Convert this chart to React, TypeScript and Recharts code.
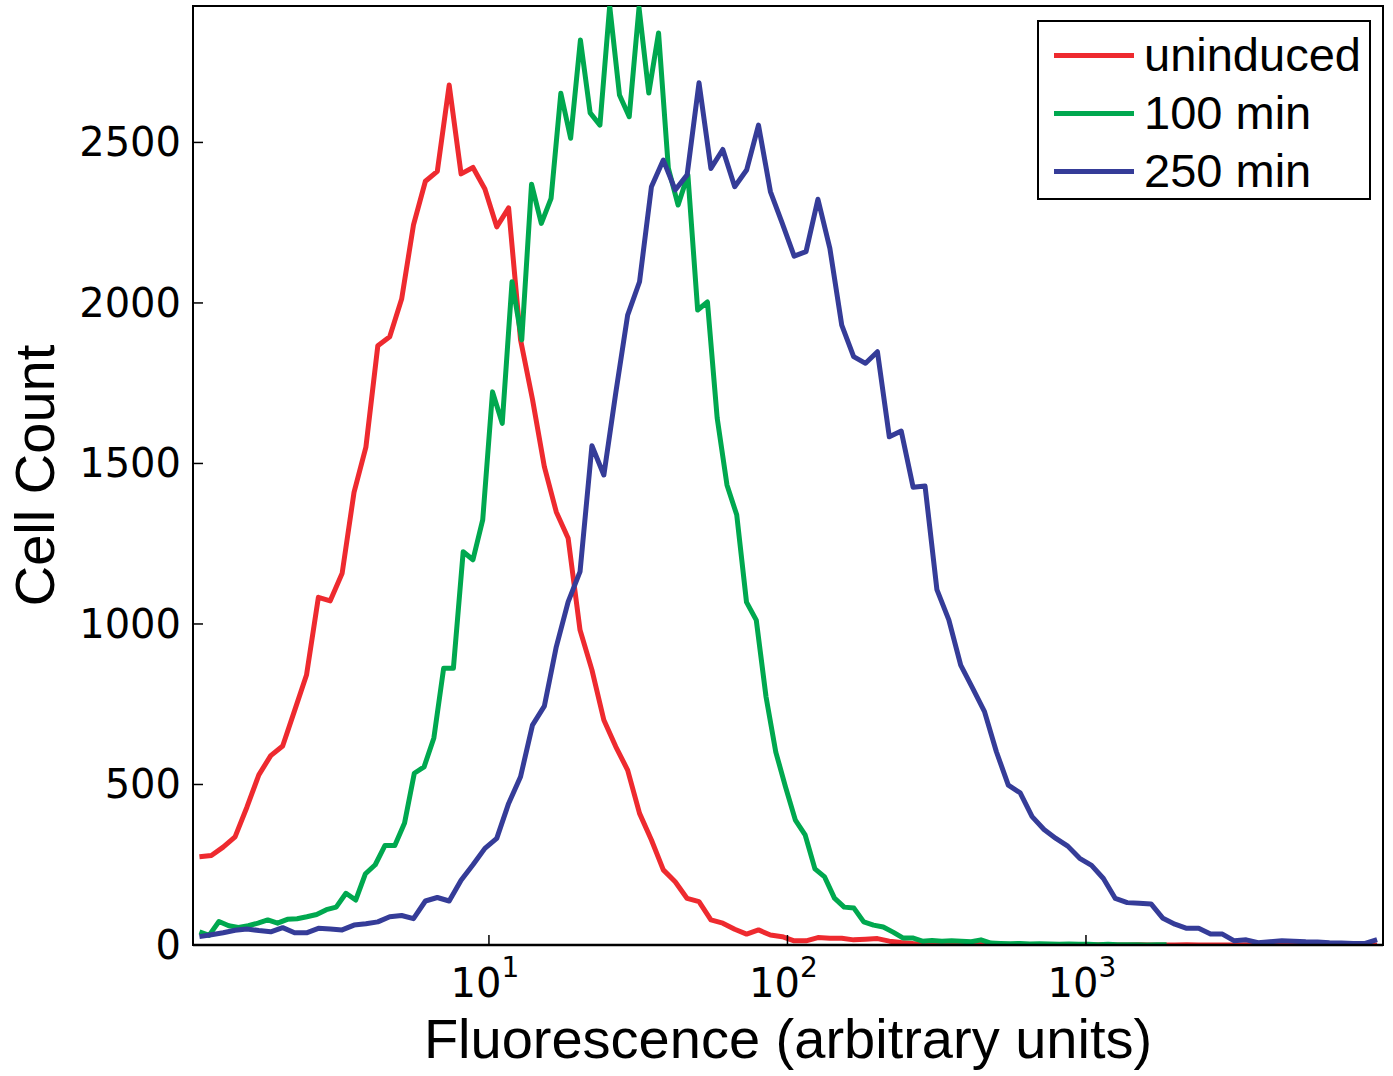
import React from 'react';
import { LineChart, Line, XAxis, YAxis, Legend, ReferenceArea } from 'recharts';

// histogram bin centres (log spaced), shared by uninduced and 250 min
const fluorWide = [
  1.072, 1.175, 1.287, 1.411, 1.547, 1.695, 1.858, 2.037, 2.233, 2.448,
  2.683, 2.94, 3.223, 3.532, 3.871, 4.244, 4.652, 5.099, 5.588, 6.125,
  6.714, 7.359, 8.066, 8.841, 9.692, 10.62, 11.64, 12.76, 13.99, 15.33,
  16.81, 18.42, 20.19, 22.13, 24.26, 26.59, 29.15, 31.95, 35.02, 38.38,
  42.07, 46.12, 50.55, 55.41, 60.73, 66.57, 72.97, 79.98, 87.67, 96.09,
  105.3, 115.4, 126.5, 138.7, 152.0, 166.6, 182.6, 200.2, 219.4, 240.5,
  263.6, 289.0, 316.7, 347.2, 380.5, 417.1, 457.2, 501.1, 549.3, 602.1,
  660.0, 723.4, 792.9, 869.1, 952.6, 1044, 1144, 1254, 1375, 1507,
  1652, 1811, 1985, 2175, 2385, 2614, 2865, 3140, 3442, 3773,
  4135, 4533, 4968, 5446, 5969, 6543, 7171, 7861, 8617, 9444,
];

// bin centres of the 100 min histogram (narrower range)
const fluorNarrow = [
  1.072, 1.155, 1.246, 1.344, 1.448, 1.562, 1.684, 1.816, 1.958, 2.112,
  2.277, 2.455, 2.647, 2.854, 3.078, 3.319, 3.578, 3.858, 4.16, 4.486,
  4.837, 5.216, 5.623, 6.064, 6.539, 7.051, 7.602, 8.198, 8.839, 9.53,
  10.28, 11.08, 11.95, 12.88, 13.89, 14.98, 16.15, 17.41, 18.78, 20.25,
  21.83, 23.54, 25.38, 27.37, 29.51, 31.82, 34.31, 37.0, 39.9, 43.02,
  46.39, 50.02, 53.94, 58.16, 62.71, 67.61, 72.91, 78.62, 84.77, 91.4,
  98.55, 106.3, 114.6, 123.6, 133.2, 143.7, 154.9, 167.0, 180.1, 194.2,
  209.4, 225.8, 243.5, 262.5, 283.1, 305.2, 329.1, 354.8, 382.6, 412.6,
  444.9, 479.7, 517.2, 557.7, 601.4, 648.4, 699.2, 753.9, 812.8, 876.5,
  945.1, 1019, 1099, 1185, 1278, 1378, 1485, 1601, 1727, 1862,
];

const uninduced = [
  275, 279, 305, 337, 430, 530, 590, 620, 730, 841,
  1083, 1072, 1158, 1410, 1551, 1867, 1895, 2012, 2243, 2379,
  2410, 2679, 2402, 2422, 2355, 2237, 2296, 1885, 1700, 1490,
  1349, 1267, 981, 857, 701, 618, 545, 410, 327, 234,
  197, 145, 135, 78, 68, 49, 34, 47, 31, 26,
  13, 13, 23, 21, 21, 16, 18, 20, 12, 8,
  5, 4, 3, 4, 2, 3, 2, 2, 1, 1,
  1, 0, 1, 0, 1, 0, 1, 0, 0, 1,
  0, 0, 0, 1, 0, 0, 0, 0, 1, 0,
  0, 0, 0, 0, 0, 0, 0, 0, 0, 0,
];

const min100 = [
  41, 30, 73, 60, 55, 60, 68, 78, 68, 80,
  82, 88, 95, 110, 118, 161, 140, 222, 250, 310,
  310, 380, 535, 555, 645, 862, 862, 1225, 1200, 1324,
  1723, 1625, 2066, 1885, 2370, 2248, 2326, 2653, 2513, 2819,
  2592, 2554, 2925, 2648, 2580, 2920, 2654, 2841, 2420, 2305,
  2399, 1978, 2003, 1641, 1433, 1340, 1068, 1012, 773, 601,
  492, 389, 343, 237, 212, 146, 118, 115, 72, 62,
  56, 40, 22, 22, 12, 14, 12, 13, 12, 10,
  16, 6, 5, 4, 5, 3, 4, 3, 2, 3,
  2, 2, 1, 2, 1, 1, 1, 0, 1, 1,
];

const min250 = [
  26, 32, 38, 46, 50, 45, 41, 54, 38, 38,
  52, 50, 47, 62, 66, 72, 88, 92, 82, 137,
  148, 137, 202, 250, 301, 332, 441, 524, 685, 744,
  929, 1069, 1163, 1555, 1464, 1719, 1962, 2066, 2362, 2445,
  2352, 2399, 2686, 2419, 2478, 2362, 2414, 2554, 2347, 2248,
  2146, 2160, 2323, 2170, 1931, 1833, 1812, 1848, 1583, 1601,
  1426, 1430, 1107, 1013, 872, 800, 727, 602, 498, 474,
  400, 360, 332, 308, 270, 248, 207, 145, 132, 130,
  128, 83, 65, 52, 52, 34, 34, 13, 16, 7,
  10, 13, 12, 10, 9, 7, 6, 5, 5, 17,
];

const seriesNames = ['uninduced', '100 min', '250 min'];
const yTicks = [0, 500, 1000, 1500, 2000, 2500];
const xTicks = [10, 100, 1000];
const xDomain = [1.02, 9886];
const yDomain = [0, 2925];

const toPoints = (xs: number[], ys: number[]) => xs.map((x, i) => ({ x, y: ys[i] }));

const redData = toPoints(fluorWide, uninduced);
const greenData = toPoints(fluorNarrow, min100);
const blueData = toPoints(fluorWide, min250);

const TICK_FONT = 'DejaVu Sans, sans-serif';
const LABEL_FONT = 'Liberation Sans, Arial, sans-serif';
const LINE_W = 5;

const LeftTick = ({ x, y, payload }: any) => (
  <g>
    <line x1={x} x2={x + 10} y1={y} y2={y} stroke="#000" strokeWidth={1.5} />
    <text x={x - 12} y={y} textAnchor="end" dominantBaseline="central" fontFamily={TICK_FONT} fontSize={40} fill="#000">
      {payload.value}
    </text>
  </g>
);

const RightTick = ({ x, y }: any) => (
  <line x1={x} x2={x - 10} y1={y} y2={y} stroke="#000" strokeWidth={1.5} />
);

const BottomTick = ({ x, y, payload }: any) => {
  const exp = Math.round(Math.log10(payload.value));
  return (
    <g>
      <line x1={x} x2={x} y1={y} y2={y - 10} stroke="#000" strokeWidth={1.5} />
      <text x={x - 4} y={y + 52} textAnchor="middle" fontFamily={TICK_FONT} fontSize={40} fill="#000">
        10
        <tspan dy={-20} fontSize={28}>{exp}</tspan>
      </text>
    </g>
  );
};

const TopTick = ({ x, y }: any) => (
  <line x1={x} x2={x} y1={y} y2={y + 10} stroke="#000" strokeWidth={1.5} />
);

const LegendBox = ({ payload }: any) => {
  const items = [...(payload || [])].sort(
    (a: any, b: any) => seriesNames.indexOf(a.value) - seriesNames.indexOf(b.value),
  );
  return (
    <div
      style={{
        width: 334,
        height: 180,
        boxSizing: 'border-box',
        border: '2px solid #000',
        background: '#fff',
        padding: '4px 0 0 15px',
      }}
    >
      {items.map((entry: any) => (
        <div key={entry.value} style={{ display: 'flex', alignItems: 'center', height: 58 }}>
          <div style={{ width: 80, height: LINE_W, background: entry.color, marginRight: 10 }} />
          <span style={{ fontFamily: LABEL_FONT, fontSize: 47, color: '#000', lineHeight: '58px' }}>{entry.value}</span>
        </div>
      ))}
    </div>
  );
};

const App = () => (
  <div style={{ position: 'absolute', left: 0, top: 0, width: 1393, height: 1076, background: '#fff' }}>
    <LineChart width={1393} height={1076} margin={{ top: 6, right: 10, left: 0, bottom: 0 }}>
      <XAxis
        dataKey="x"
        type="number"
        scale="log"
        domain={xDomain}
        allowDataOverflow
        ticks={xTicks}
        height={131}
        tickSize={0}
        tickMargin={0}
        tick={<BottomTick />}
        axisLine={{ stroke: '#000', strokeWidth: 2.5 }}
        label={{
          value: 'Fluorescence (arbitrary units)',
          position: 'insideBottom',
          offset: 18,
          style: { fontFamily: LABEL_FONT, fontSize: 56, fill: '#000' },
        }}
      />
      <XAxis
        xAxisId="top"
        orientation="top"
        dataKey="x"
        type="number"
        scale="log"
        domain={xDomain}
        allowDataOverflow
        ticks={xTicks}
        height={0}
        tickSize={0}
        tickMargin={0}
        tick={<TopTick />}
        axisLine={false}
      />
      <YAxis
        type="number"
        domain={yDomain}
        allowDataOverflow
        ticks={yTicks}
        width={193}
        tickSize={0}
        tickMargin={0}
        tick={<LeftTick />}
        axisLine={{ stroke: '#000', strokeWidth: 2 }}
        label={{
          value: 'Cell Count',
          angle: -90,
          position: 'insideLeft',
          offset: 34,
          style: { fontFamily: LABEL_FONT, fontSize: 56, fill: '#000', textAnchor: 'middle' },
        }}
      />
      <YAxis
        yAxisId="right"
        orientation="right"
        type="number"
        domain={yDomain}
        allowDataOverflow
        ticks={yTicks}
        width={0}
        tickSize={0}
        tickMargin={0}
        tick={<RightTick />}
        axisLine={false}
      />
      <ReferenceArea
        x1={xDomain[0]}
        x2={xDomain[1]}
        y1={yDomain[0]}
        y2={yDomain[1]}
        fill="none"
        stroke="#000"
        strokeWidth={2}
        ifOverflow="visible"
      />
      <Line data={redData} dataKey="y" name="uninduced" stroke="#ee2a2f" strokeWidth={LINE_W} dot={false} strokeLinejoin="round" isAnimationActive={false} />
      <Line data={greenData} dataKey="y" name="100 min" stroke="#00a84f" strokeWidth={LINE_W} dot={false} strokeLinejoin="round" isAnimationActive={false} />
      <Line data={blueData} dataKey="y" name="250 min" stroke="#353c98" strokeWidth={LINE_W} dot={false} strokeLinejoin="round" isAnimationActive={false} />
      <Legend
        layout="horizontal"
        align="center"
        verticalAlign="middle"
        content={<LegendBox />}
        wrapperStyle={{ left: 1037, top: 20, width: 334, height: 180 }}
      />
    </LineChart>
  </div>
);

export default App;
